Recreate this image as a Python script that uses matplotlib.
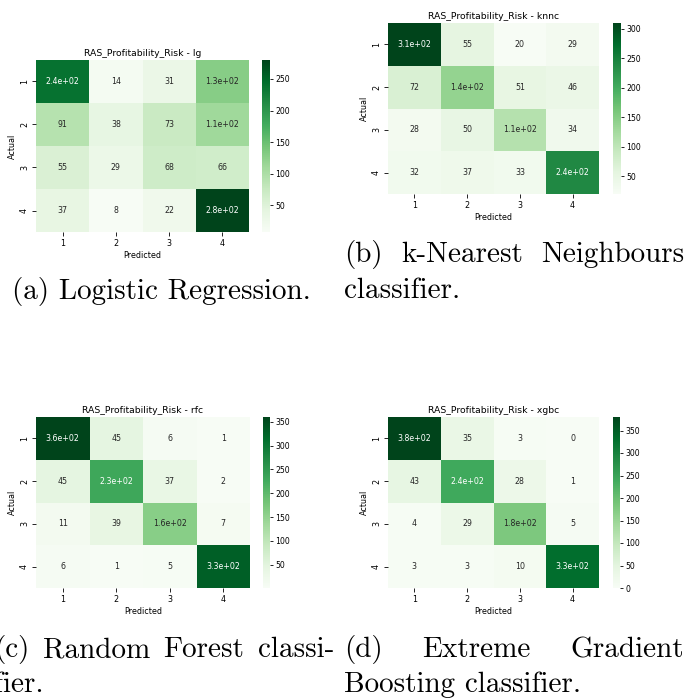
import numpy as np
import matplotlib
matplotlib.use("Agg")
import matplotlib.pyplot as plt
import seaborn as sns

# Confusion matrices (rows = actual class, columns = predicted class)
classes = ["1", "2", "3", "4"]
cm_lg = [[240, 14, 31, 130],
         [91, 38, 73, 110],
         [55, 29, 68, 66],
         [37, 8, 22, 280]]
cm_knnc = [[310, 55, 20, 29],
           [72, 140, 51, 46],
           [28, 50, 110, 34],
           [32, 37, 33, 240]]
cm_rfc = [[360, 45, 6, 1],
          [45, 230, 37, 2],
          [11, 39, 160, 7],
          [6, 1, 5, 330]]
cm_xgbc = [[380, 35, 3, 0],
           [43, 240, 28, 1],
           [4, 29, 180, 5],
           [3, 3, 10, 330]]
model_tags = ["lg", "knnc", "rfc", "xgbc"]

W, H = 688, 700
fig = plt.figure(figsize=(W / 100, H / 100), dpi=100)
fig.patch.set_facecolor("white")


def px_axes(l, t, r, b):
    return fig.add_axes([l / W, 1 - b / H, (r - l) / W, (b - t) / H])


def draw_cm(data, tag, ax_box, cb_box):
    ax = px_axes(*ax_box)
    cax = px_axes(*cb_box)
    sns.heatmap(np.array(data), annot=True, cmap="Greens", ax=ax, cbar_ax=cax,
                xticklabels=classes, yticklabels=classes,
                annot_kws={"size": 5.7})
    ax.set_title(f"RAS_Profitability_Risk - {tag}", fontsize=6.7, pad=3)
    ax.set_xlabel("Predicted", fontsize=5.8, labelpad=2)
    ax.set_ylabel("Actual", fontsize=5.8, labelpad=2)
    ax.tick_params(axis="both", labelsize=5.8, length=3, width=0.6, pad=2)
    plt.setp(ax.get_yticklabels(), rotation=90, va="center")
    plt.setp(ax.get_xticklabels(), rotation=0)
    cax.tick_params(labelsize=5.6, length=2.5, width=0.6, pad=1.5)
    for s in cax.spines.values():
        s.set_visible(False)


draw_cm(cm_lg, model_tags[0], (36, 60, 249, 232), (262, 60, 270, 232))
draw_cm(cm_knnc, model_tags[1], (388, 23, 599, 194), (613, 23, 621, 194))
draw_cm(cm_rfc, model_tags[2], (36, 417, 250, 588), (263, 417, 270, 588))
draw_cm(cm_xgbc, model_tags[3], (388, 417, 599, 588), (613, 417, 620, 588))

# Sub-figure captions in a Computer Modern face
cap_font = dict(family="cmr10", fontsize=21, va="baseline", ha="left", color="black")
renderer = fig.canvas.get_renderer()


def line(x, y, s):
    fig.text(x / W, 1 - y / H, s, **cap_font)


def justified(x_left, x_right, y, words):
    """Spread words so the line runs from x_left to x_right (pixels)."""
    texts = [fig.text(0, 1 - y / H, w, **cap_font) for w in words]
    widths = [t.get_window_extent(renderer).width for t in texts]
    gap = (x_right - x_left - sum(widths)) / (len(words) - 1)
    x = x_left
    for t, w in zip(texts, widths):
        t.set_x(x / W)
        x += w + gap


line(12, 299, "(a) Logistic Regression.")

justified(344, 684, 262, ["(b)", "k-Nearest", "Neighbours"])
line(344, 298, "classifier.")

justified(-6, 334, 657, ["(c)", "Random", "Forest", "classi-"])
line(-6, 692, "fier.")

justified(344, 684, 657, ["(d)", "Extreme", "Gradient"])
line(344, 692, "Boosting classifier.")

fig.savefig("out.png", dpi=100, facecolor="white")
